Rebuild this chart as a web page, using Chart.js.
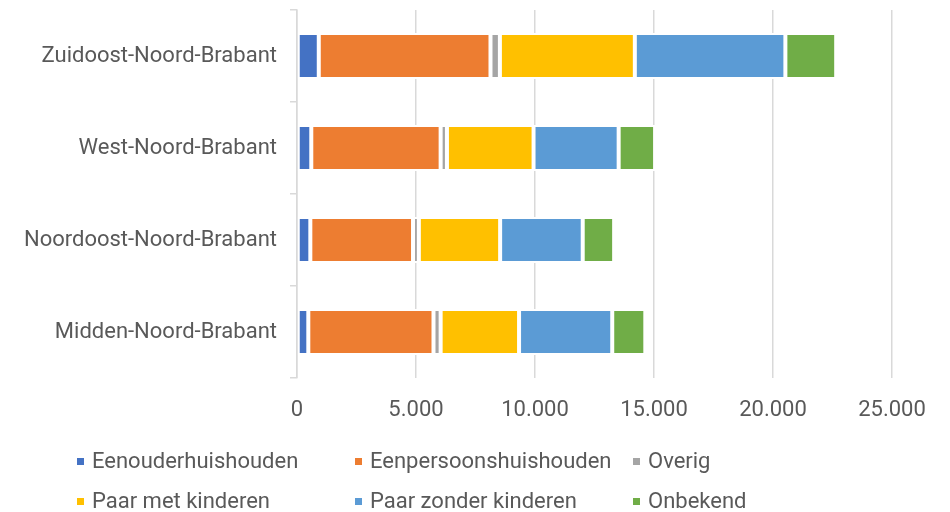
<!DOCTYPE html>
<html>
<head>
<meta charset="utf-8">
<script src="https://cdn.jsdelivr.net/npm/chart.js@4"></script>
<style>
  body { margin: 0; background: #fff; }
  #wrap { position: relative; width: 950px; height: 512px; }
  #legend { position: absolute; left: 0; top: 0; width: 950px; height: 512px; pointer-events: none; }
  .item { position: absolute; font-family: Roboto, sans-serif; font-size: 22px; color: #595959; white-space: nowrap; line-height: 26px; }
  .box { position: absolute; width: 7px; height: 7px; left: 0; top: 10px; }
  .item span { position: absolute; left: 15px; top: 0; }
</style>
</head>
<body>
<div id="wrap">
  <canvas id="chart" width="950" height="512"></canvas>
  <div id="legend"></div>
</div>
<script>
const categories = [
  "Zuidoost-Noord-Brabant",
  "West-Noord-Brabant",
  "Noordoost-Noord-Brabant",
  "Midden-Noord-Brabant"
];

const eenouder = [915, 600, 560, 475];
const eenpersoons = [7215, 5435, 4315, 5260];
const overig = [395, 265, 245, 300];
const paarMet = [5670, 3640, 3415, 3295];
const paarZonder = [6325, 3575, 3470, 3915];
const onbekend = [2135, 1530, 1320, 1390];

const seriesNames = [
  "Eenouderhuishouden",
  "Eenpersoonshuishouden",
  "Overig",
  "Paar met kinderen",
  "Paar zonder kinderen",
  "Onbekend"
];
const seriesData = [eenouder, eenpersoons, overig, paarMet, paarZonder, onbekend];
const colors = ["#4472C4", "#ED7D31", "#A5A5A5", "#FFC000", "#5B9BD5", "#70AD47"];

const xTicks = [0, 5000, 10000, 15000, 20000, 25000];

const fmt = v => String(v).replace(/\B(?=(\d{3})+(?!\d))/g, ".");

const font = { family: "Roboto, sans-serif", size: 22 };
const textColor = "#595959";
const gridColor = "#d9d9d9";

const datasets = seriesNames.map((name, i) => ({
  label: name,
  data: seriesData[i],
  backgroundColor: colors[i],
  borderColor: "#ffffff",
  borderWidth: 2,
  borderSkipped: false,
  barPercentage: 0.5,
  categoryPercentage: 1
}));

const ctx = document.getElementById("chart").getContext("2d");
const chart = new Chart(ctx, {
  type: "bar",
  data: { labels: categories, datasets: datasets },
  options: {
    indexAxis: "y",
    responsive: false,
    animation: false,
    layout: { padding: { top: 10, right: 58, bottom: 90, left: 0 } },
    plugins: {
      legend: { display: false },
      tooltip: { enabled: false }
    },
    scales: {
      x: {
        stacked: true,
        min: 0,
        max: 25000,
        afterBuildTicks: scale => {
          scale.ticks = xTicks.map(v => ({ value: v }));
        },
        afterFit: scale => {
          scale.height = 44;
          scale.paddingLeft = 0;
          scale.paddingRight = 0;
        },
        ticks: {
          font: font,
          color: textColor,
          padding: 19,
          callback: v => fmt(v)
        },
        grid: { color: gridColor, lineWidth: 1.5, drawTicks: false },
        border: { display: false }
      },
      y: {
        stacked: true,
        afterFit: scale => {
          scale.width = 297;
          scale.paddingTop = 0;
          scale.paddingBottom = 0;
        },
        ticks: { font: font, color: textColor, padding: 13 },
        grid: {
          offset: true,
          drawOnChartArea: false,
          drawTicks: true,
          tickLength: 7,
          color: gridColor,
          lineWidth: 1.5
        },
        border: { display: true, color: gridColor, width: 1.5 }
      }
    }
  }
});

// legend in three columns, two rows
const legend = document.getElementById("legend");
seriesNames.forEach((name, i) => {
  const col = i % 3;
  const row = Math.floor(i / 3);
  const item = document.createElement("div");
  item.className = "item";
  item.style.left = (77 + col * 278) + "px";
  item.style.top = (448 + row * 40) + "px";
  const box = document.createElement("div");
  box.className = "box";
  box.style.background = colors[i];
  const label = document.createElement("span");
  label.textContent = name;
  item.appendChild(box);
  item.appendChild(label);
  legend.appendChild(item);
});
</script>
</body>
</html>
